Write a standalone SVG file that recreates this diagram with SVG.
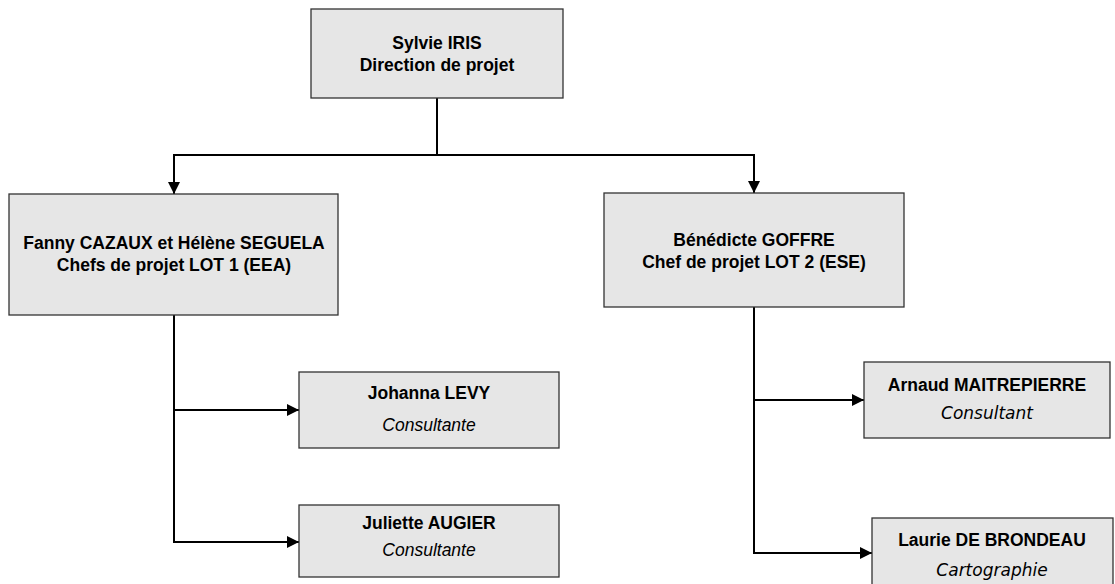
<svg xmlns="http://www.w3.org/2000/svg" width="1115" height="584" viewBox="0 0 1115 584">
<style>
.box{fill:#e6e6e6;stroke:#333333;stroke-width:1.3}
.b{font-family:"Liberation Sans",Arial,sans-serif;font-weight:bold;font-size:17.5px;fill:#000;text-anchor:middle}
.i{font-family:"Liberation Sans",Arial,sans-serif;font-style:italic;font-size:17.5px;fill:#000;text-anchor:middle}
.v{font-family:"DejaVu Sans",Verdana,sans-serif;font-style:oblique;font-size:17px;fill:#000;text-anchor:middle}
.c{fill:none;stroke:#000;stroke-width:2}
</style>
<defs>
<marker id="ah" viewBox="0 0 12 12" refX="12" refY="6" markerWidth="12" markerHeight="12" markerUnits="userSpaceOnUse" orient="auto">
<path d="M0,0 L12,6 L0,12 Z" fill="#000"/>
</marker>
</defs>
<g id="connectors">
<path class="c" d="M437,98 V155 H174 V194" marker-end="url(#ah)"/>
<path class="c" d="M437,155 H754 V193" marker-end="url(#ah)"/>
<path class="c" d="M174,315 V542 H299" marker-end="url(#ah)"/>
<path class="c" d="M174,410 H299" marker-end="url(#ah)"/>
<path class="c" d="M754,307 V553 H872" marker-end="url(#ah)"/>
<path class="c" d="M754,400 H864" marker-end="url(#ah)"/>
</g>
<g id="iris">
<rect class="box" x="311" y="9" width="252" height="89"/>
<text class="b" x="437" y="49">Sylvie IRIS</text>
<text class="b" x="437" y="71">Direction de projet</text>
</g>
<g id="lot1">
<rect class="box" x="9" y="194" width="329" height="121"/>
<text class="b" x="174" y="249">Fanny CAZAUX et Hélène SEGUELA</text>
<text class="b" x="174" y="271">Chefs de projet LOT 1 (EEA)</text>
</g>
<g id="lot2">
<rect class="box" x="604" y="193" width="300" height="114"/>
<text class="b" x="754" y="246">Bénédicte GOFFRE</text>
<text class="b" x="754" y="268">Chef de projet LOT 2 (ESE)</text>
</g>
<g id="levy">
<rect class="box" x="299" y="372" width="260" height="76"/>
<text class="b" x="429" y="399">Johanna LEVY</text>
<text class="i" x="429" y="431">Consultante</text>
</g>
<g id="augier">
<rect class="box" x="299" y="505" width="260" height="72"/>
<text class="b" x="429" y="529">Juliette AUGIER</text>
<text class="i" x="429" y="556">Consultante</text>
</g>
<g id="maitrepierre">
<rect class="box" x="864" y="362" width="246" height="76"/>
<text class="b" x="987" y="391">Arnaud MAITREPIERRE</text>
<text class="v" x="987" y="419">Consultant</text>
</g>
<g id="brondeau">
<rect class="box" x="872" y="518" width="241" height="80"/>
<text class="b" x="992" y="546">Laurie DE BRONDEAU</text>
<text class="v" x="992" y="576">Cartographie</text>
</g>
</svg>
